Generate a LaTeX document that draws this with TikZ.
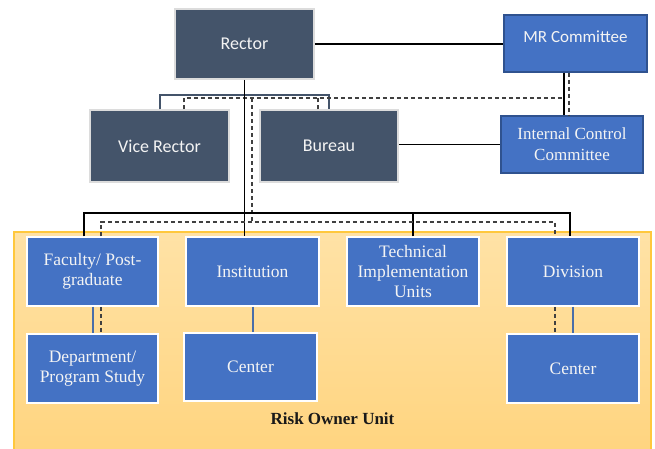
\documentclass[tikz,border=0pt]{standalone}
\usepackage{fontspec}
\setmainfont{Liberation Serif}
\newfontfamily\calib{Carlito}
\usetikzlibrary{calc}
\definecolor{slate}{HTML}{44546A}
\definecolor{boxblue}{HTML}{4472C4}
\definecolor{edgeblue}{HTML}{2F528F}
\definecolor{lineblue}{HTML}{4A6EA8}
\definecolor{lgray}{HTML}{DCDCDC}
\definecolor{txt}{HTML}{F4F4F4}
\definecolor{gold}{HTML}{FFC83D}
\definecolor{bgtop}{HTML}{FFE2A6}
\definecolor{bgbot}{HTML}{FFD47E}
\begin{document}
\begin{tikzpicture}[x=1pt,y=-1pt,
 darkbox/.style={draw=lgray,line width=1.5pt,fill=slate,text=txt,font=\calib\fontsize{18}{20}\selectfont,inner sep=0pt,align=center},
 topblue/.style={draw=edgeblue,line width=1.2pt,fill=boxblue,text=txt,inner sep=0pt,align=center},
 lowblue/.style={draw=white,line width=1.5pt,fill=boxblue,text=txt,font=\fontsize{17.5}{20}\selectfont,inner sep=0pt,align=center},
 blk/.style={draw=black,line width=1.9pt},
 dsh/.style={draw=black!75,line width=1.2pt,dash pattern=on 4pt off 3pt},
 bl/.style={draw=lineblue,line width=2pt},
 slatebar/.style={draw=slate,line width=2pt}
]
\useasboundingbox (0,0) rectangle (655,448);
% background region
\fill[top color=bgtop,bottom color=bgbot] (14,232) rectangle (651,460);
\draw[gold,line width=1.2pt] (14,460) -- (14,232) -- (651,232) -- (651,460);

% nodes
\node[darkbox,minimum width=139pt,minimum height=70pt] (rector) at (244.5,44) {Rector};
\node[darkbox,minimum width=139pt,minimum height=72pt] (vr) at (159.5,146) {Vice Rector};
\node[darkbox,minimum width=138pt,minimum height=72pt] (bur) at (329,146) {Bureau};
\node[topblue,minimum width=143pt,minimum height=57pt,font=\calib\fontsize{17}{20}\selectfont,text depth=14pt] (mr) at (575.5,43.5) {MR Committee};
\node[topblue,minimum width=142pt,minimum height=57pt,font=\fontsize{17}{21}\selectfont] (icc) at (572,144.5) {Internal Control\\Committee};

\node[lowblue,minimum width=131pt,minimum height=69pt] (fac) at (92.5,271.5) {Faculty/ Post-\\graduate};
\node[lowblue,minimum width=133pt,minimum height=69pt] (inst) at (252.5,271.5) {Institution};
\node[lowblue,minimum width=132pt,minimum height=69pt] (tech) at (413,271.5) {Technical\\Implementation\\Units};
\node[lowblue,minimum width=132pt,minimum height=69pt] (div) at (573,271.5) {Division};
\node[lowblue,minimum width=131pt,minimum height=69pt] (dep) at (92.5,368.5) {Department/\\Program Study};
\node[lowblue,minimum width=133pt,minimum height=68pt] (cen1) at (250.5,367) {Center};
\node[lowblue,minimum width=132pt,minimum height=69pt] (cen2) at (573,368.5) {Center};

\node[font=\bfseries\fontsize{17}{20}\selectfont,text=black!90] (rou) at (332.5,419) {Risk Owner Unit};

% helper coordinates
\coordinate (xmr) at (564,0);
\coordinate (xmrd) at (569,0);
\coordinate (ybar) at (0,95);
\coordinate (yd1) at (0,98);
\coordinate (yb2) at (0,213);
\coordinate (yd2) at (0,222);
\coordinate (d1) at (184,0);
\coordinate (d2) at (318,0);
\coordinate (d3) at (252,0);
\coordinate (d4) at (101,0);
\coordinate (d5) at (555,0);
\coordinate (b1) at (84,0);
\coordinate (b2) at (570,0);

% connectors
\draw[blk] (rector.east) -- (rector.east -| mr.west);
\draw[blk] (icc.west -| bur.east) -- (icc.west);
\draw[blk] (mr.south -| xmr) -- (icc.north -| xmr);
\draw[dsh] (mr.south -| xmrd) -- (icc.north -| xmrd);

\draw[slatebar] (vr.north) -- (vr.north |- ybar) -- (bur.north |- ybar) -- (bur.north);
\draw[dsh] (vr.north -| d1) -- (d1 |- yd1) -- (xmr |- yd1);
\draw[dsh] (bur.north -| d2) -- (d2 |- yd1);
\draw[dsh] (d3 |- yd1) -- (d3 |- yd2);

\draw[blk] (rector.south) -- (rector.south |- inst.north);
\draw[blk] (fac.north -| b1) -- (b1 |- yb2) -- (b2 |- yb2) -- (div.north -| b2);
\draw[blk] (tech.north) -- (tech.north |- yb2);
\draw[dsh] (fac.north -| d4) -- (d4 |- yd2) -- (d5 |- yd2) -- (div.north -| d5);

\draw[bl] (fac.south) -- (dep.north);
\draw[dsh] (fac.south -| d4) -- (dep.north -| d4);
\draw[bl] (inst.south) -- (inst.south |- cen1.north);
\draw[bl] (div.south) -- (cen2.north);
\draw[dsh] (div.south -| d5) -- (cen2.north -| d5);
\end{tikzpicture}
\end{document}
